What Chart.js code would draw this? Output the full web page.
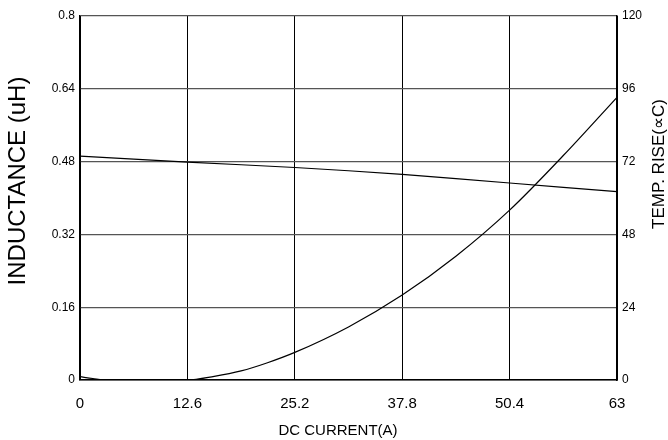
<!DOCTYPE html>
<html>
<head>
<meta charset="utf-8">
<script src="https://cdn.jsdelivr.net/npm/chart.js@4/dist/chart.umd.min.js"></script>
<style>
html,body{margin:0;padding:0;background:#fff;}
#wrap{width:668px;height:440px;}
</style>
</head>
<body>
<div id="wrap"><canvas id="c" width="668" height="440"></canvas></div>
<script>
// Tick labels
const xTicks = [0, 12.6, 25.2, 37.8, 50.4, 63];
const leftTicks = [0, 0.16, 0.32, 0.48, 0.64, 0.8];
const rightTicks = [0, 24, 48, 72, 96, 120];

// Inductance series (uH) vs DC current (A)
const indCurrent = [0, 12.6, 25.2, 37.8, 50.4, 63];
const indValues  = [0.492, 0.479, 0.467, 0.452, 0.433, 0.414];

// Temperature rise series (°C) vs DC current (A)
const tempCurrent = [0, 1.5, 3, 12.6, 15.75, 18.9, 22, 25.2, 31.5, 37.8, 44.1, 50.4, 56.7, 63];
const tempValues  = [1.1, 0.5, 0, 0, 1.2, 3.0, 5.7, 9.1, 17.5, 28, 40.8, 56, 74, 93.2];

const xTitle = 'DC CURRENT(A)';
const leftTitle = 'INDUCTANCE (uH)';
const rightTitle = 'TEMP. RISE(\u221DC)';

const FONT = '"Liberation Sans", Arial, Helvetica, sans-serif';

const titlesPlugin = {
  id: 'titles',
  afterDraw(chart) {
    const ctx = chart.ctx;
    ctx.save();
    ctx.fillStyle = '#000';
    ctx.textAlign = 'center';
    ctx.textBaseline = 'middle';
    ctx.font = '15px ' + FONT;
    ctx.fillText(xTitle, 338, 431);
    ctx.save();
    ctx.translate(18, 181);
    ctx.rotate(-Math.PI / 2);
    ctx.font = '24px ' + FONT;
    ctx.fillText(leftTitle, 0, 0);
    ctx.restore();
    ctx.save();
    ctx.translate(659, 164);
    ctx.rotate(-Math.PI / 2);
    ctx.font = '17px ' + FONT;
    ctx.fillText(rightTitle, 0, 0);
    ctx.restore();
    ctx.restore();
  }
};

new Chart(document.getElementById('c'), {
  type: 'line',
  data: {
    datasets: [
      {
        label: 'Inductance',
        data: indCurrent.map((x, i) => ({x: x, y: indValues[i]})),
        yAxisID: 'y',
        borderColor: '#000',
        borderWidth: 1.2,
        pointRadius: 0,
        fill: false,
        tension: 0.3
      },
      {
        label: 'Temp rise',
        data: tempCurrent.map((x, i) => ({x: x, y: tempValues[i]})),
        yAxisID: 'y1',
        borderColor: '#000',
        borderWidth: 1.2,
        pointRadius: 0,
        fill: false,
        cubicInterpolationMode: 'monotone'
      }
    ]
  },
  options: {
    responsive: false,
    animation: false,
    devicePixelRatio: 1,
    layout: {padding: {top: 16, left: 0, right: 0, bottom: 0}},
    plugins: {legend: {display: false}, tooltip: {enabled: false}},
    scales: {
      x: {
        type: 'linear',
        min: 0, max: 63,
        afterBuildTicks: s => { s.ticks = xTicks.map(v => ({value: v})); },
        afterFit: s => { s.height = 60; },
        ticks: {
          color: '#000', padding: 15, maxRotation: 0, autoSkip: false,
          font: {family: FONT, size: 15},
          callback: v => String(v)
        },
        grid: {color: '#000', lineWidth: 1, drawTicks: false},
        border: {color: '#000', width: 1.5}
      },
      y: {
        position: 'left',
        min: 0, max: 0.8,
        afterBuildTicks: s => { s.ticks = leftTicks.map(v => ({value: v})); },
        afterFit: s => { s.width = 80; },
        ticks: {
          color: '#000', padding: 5,
          font: {family: FONT, size: 12},
          callback: v => String(v)
        },
        grid: {color: '#555', lineWidth: 1.3, drawTicks: false},
        border: {color: '#000', width: 1.5}
      },
      y1: {
        position: 'right',
        min: 0, max: 120,
        afterBuildTicks: s => { s.ticks = rightTicks.map(v => ({value: v})); },
        afterFit: s => { s.width = 51; },
        ticks: {
          color: '#000', padding: 5,
          font: {family: FONT, size: 12},
          callback: v => String(v)
        },
        grid: {drawOnChartArea: false, drawTicks: false},
        border: {color: '#000', width: 1.5}
      }
    }
  },
  plugins: [titlesPlugin]
});
</script>
</body>
</html>
